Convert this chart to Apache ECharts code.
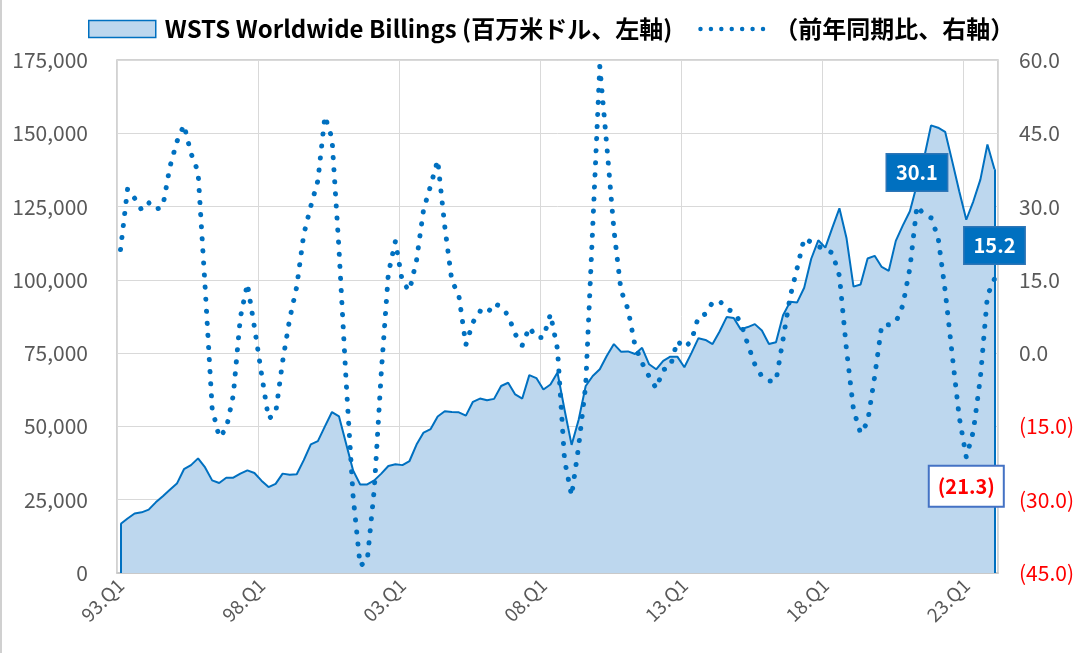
<!DOCTYPE html>
<html>
<head>
<meta charset="utf-8">
<script src="https://cdn.jsdelivr.net/npm/echarts@6/dist/echarts.min.js"></script>
<style>
  html, body { margin: 0; padding: 0; background: #fff; }
  #main { width: 1090px; height: 653px; }
</style>
</head>
<body>
<div id="main"></div>
<script>
// 四半期ラベル 93.Q1 〜 24.Q1
var quarters = []
for (var y = 1993; y <= 2024; y++) {
  for (var q = 1; q <= 4; q++) {
    if (y === 2024 && q > 1) break
    quarters.push(String(y).slice(2) + '.Q' + q)
  }
}

// WSTS Worldwide Billings（百万米ドル）
var billings = [
  16700, 18600, 20300, 20700, 21600, 24100, 26200, 28400, 30500, 35400,
  36800, 39100, 36000, 31600, 30700, 32500, 32500, 33900, 35000, 34100,
  31500, 29300, 30400, 33900, 33500, 33700, 38500, 43900, 45000, 50000,
  54900, 53400, 44200, 35000, 30200, 30200, 31600, 33900, 36500, 37100,
  36800, 38200, 43800, 47900, 49100, 53400, 55200, 54900, 54800, 53700,
  58400, 59500, 58900, 59400, 63800, 64900, 60900, 59500, 67500, 66500,
  62600, 64300, 68400, 55700, 43700, 52300, 63800, 67200, 69500, 74100,
  78100, 75500, 75600, 74700, 76800, 71200, 69500, 72400, 73800, 73800,
  70200, 75000, 80100, 79500, 78100, 82400, 87300, 87000, 83100, 83900,
  84900, 82700, 78100, 78700, 87900, 92500, 92300, 97300, 107200, 113500,
  111000, 117800, 124400, 114300, 97700, 98400, 107300, 108200, 104400, 103100,
  113300, 118600, 123400, 132500, 141500, 152700, 151900, 150500, 140500, 130200,
  120500, 126800, 134200, 146200, 137700
]

// 前年同期比（%）
var yoy = [
  21.2, 33.6, 31.7, 29.3, 30.8, 29.4, 30.0, 38.1, 43.3, 46.7,
  40.9, 37.1, 13.6, -11.3, -17.2, -15.5, -8.6, 7.3, 14.2, 5.3,
  -4.2, -13.4, -12.4, -1.7, 7.0, 13.6, 24.3, 30.1, 35.3, 48.5,
  44.0, 21.2, -5.5, -29.3, -43.5, -42.5, -27.9, -3.9, 16.3, 22.9,
  14.5, 12.8, 19.0, 29.4, 34.3, 39.5, 26.0, 14.9, 11.8, 1.7,
  6.3, 8.6, 8.0, 10.2, 9.5, 7.7, 3.9, 1.6, 5.3, 3.2,
  3.2, 8.0, 0.8, -21.9, -29.2, -19.1, -6.6, 25.9, 58.7, 42.4,
  25.3, 12.9, 9.0, 1.5, -2.0, -4.8, -7.2, -3.4, -2.8, 2.5,
  1.1, 2.5, 7.5, 8.0, 10.4, 10.7, 9.0, 8.5, 6.2, 1.8,
  -2.3, -4.8, -5.7, -5.7, 2.8, 11.5, 17.4, 23.5, 22.7, 21.8,
  21.3, 20.5, 15.8, 0.8, -11.6, -16.4, -14.1, -4.8, 5.7, 5.8,
  6.3, 9.8, 17.4, 30.1, 28.4, 27.7, 23.7, 12.8, -0.3, -13.1,
  -21.3, -16.0, -5.0, 11.8, 15.2
]

// ラベルを付ける点
var labelIdx = [113, 120, 124]

var nameBill = 'WSTS Worldwide Billings (百万米ドル、左軸)'
var nameYoy = '（前年同期比、右軸）'
var FONT = '"Noto Sans CJK JP", "Noto Sans", sans-serif'

function fmtPct (v) {
  return v < 0 ? '(' + Math.abs(v).toFixed(1) + ')' : v.toFixed(1)
}

// 凡例用の点線アイコン（7点）
var dotIcon = 'path://'
for (var k = 0; k < 7; k++) {
  var cx = 2.3 + k * 10.7
  dotIcon += 'M' + (cx - 2.3) + ',2.3a2.3,2.3 0 1,0 4.6,0a2.3,2.3 0 1,0 -4.6,0Z'
}

var labelPts = labelIdx.map(function (i) {
  var v = yoy[i]
  var neg = v < 0
  return {
    value: [i, v],
    label: {
      show: true,
      position: neg ? 'bottom' : 'top',
      distance: neg ? 9 : 15,
      formatter: function (p) { return fmtPct(p.value[1]) },
      fontFamily: FONT,
      fontSize: 20,
      fontWeight: 'bold',
      color: neg ? '#FF0000' : '#ffffff',
      backgroundColor: neg ? '#ffffff' : '#0070C0',
      borderColor: neg ? '#4472C4' : '#2E75B6',
      borderWidth: neg ? 2 : 1.5,
      padding: neg ? [10, 8, 9, 8] : [8, 9, 8, 9]
    }
  }
})

var last = billings.length - 1

var option = {
  animation: false,
  backgroundColor: '#ffffff',
  textStyle: { fontFamily: FONT },
  legend: {
    left: 88,
    top: 17,
    padding: 0,
    itemWidth: 67,
    itemHeight: 17,
    itemGap: 26,
    textStyle: { fontFamily: FONT, fontSize: 24, fontWeight: 'bold', color: '#000000', padding: [0, 0, 0, 4] },
    data: [
      { name: nameBill, icon: 'rect', itemStyle: { color: '#BDD7EE', borderColor: '#0070C0', borderWidth: 1.5 } },
      { name: nameYoy, icon: dotIcon, itemStyle: { color: '#0070C0', borderWidth: 0 } }
    ]
  },
  graphic: [{
    type: 'line',
    shape: { x1: 1, y1: 0, x2: 1, y2: 653 },
    style: { stroke: '#d0d0d0', lineWidth: 2 }
  }],
  grid: {
    left: 117,
    right: 92,
    top: 60,
    bottom: 80,
    show: true,
    borderColor: '#c4c4c4',
    borderWidth: 1.5
  },
  xAxis: {
    type: 'category',
    data: quarters,
    boundaryGap: true,
    axisLine: { show: true, lineStyle: { color: '#c4c4c4', width: 1.5 } },
    axisTick: { show: false },
    axisLabel: {
      interval: 19,
      rotate: 45,
      margin: 9,
      color: '#595959',
      fontFamily: FONT,
      fontSize: 19
    },
    splitLine: {
      show: true,
      interval: 19,
      lineStyle: { color: '#d9d9d9', width: 1 }
    }
  },
  yAxis: [{
    type: 'value',
    min: 0,
    max: 175000,
    interval: 25000,
    axisLine: { show: false },
    axisTick: { show: false },
    axisLabel: {
      margin: 29,
      color: '#595959',
      fontFamily: FONT,
      fontSize: 21,
      formatter: function (v) { return v.toLocaleString('en-US') }
    },
    splitLine: { lineStyle: { color: '#d9d9d9', width: 1 } }
  }, {
    type: 'value',
    min: -45,
    max: 60,
    interval: 15,
    axisLine: { show: false },
    axisTick: { show: false },
    axisLabel: {
      margin: 21,
      fontFamily: FONT,
      fontSize: 21,
      color: function (v) { return Number(v) < 0 ? '#FF0000' : '#595959' },
      formatter: fmtPct
    },
    splitLine: { show: false }
  }],
  series: [{
    name: nameBill,
    type: 'line',
    yAxisIndex: 0,
    data: billings,
    symbol: 'none',
    z: 2,
    lineStyle: { color: '#0070C0', width: 2 },
    itemStyle: { color: '#0070C0' },
    areaStyle: { color: '#BDD7EE', opacity: 1 },
    markLine: {
      silent: true,
      symbol: 'none',
      label: { show: false },
      lineStyle: { color: '#0070C0', width: 2, type: 'solid' },
      data: [
        [{ coord: [quarters[0], 0] }, { coord: [quarters[0], billings[0]] }],
        [{ coord: [quarters[last], 0] }, { coord: [quarters[last], billings[last]] }]
      ]
    }
  }, {
    name: nameYoy,
    type: 'line',
    yAxisIndex: 1,
    data: yoy,
    symbol: 'none',
    z: 3,
    itemStyle: { color: '#0070C0' },
    lineStyle: { color: '#0070C0', width: 5, type: [0.1, 12], cap: 'round' }
  }, {
    name: 'labels',
    type: 'scatter',
    yAxisIndex: 1,
    data: labelPts,
    symbolSize: 1,
    z: 5,
    itemStyle: { color: 'transparent', opacity: 1 }
  }]
}

var chart = echarts.init(document.getElementById('main'))
chart.setOption(option)
window.onresize = chart.resize
</script>
</body>
</html>
